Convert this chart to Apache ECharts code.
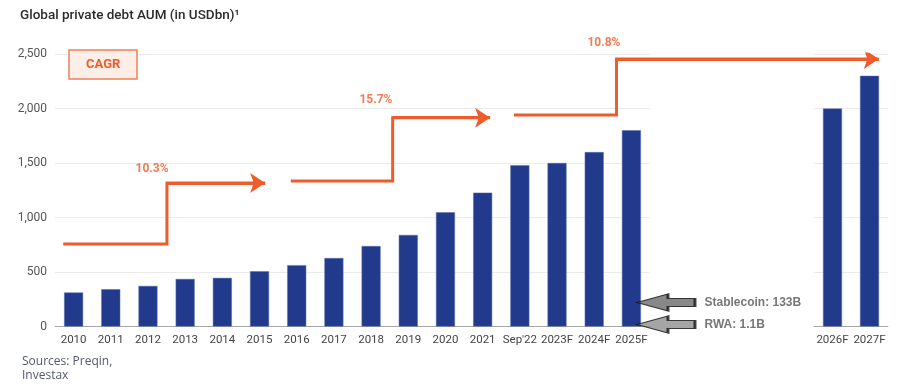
<!DOCTYPE html>
<html>
<head>
<meta charset="utf-8">
<script src="https://cdn.jsdelivr.net/npm/echarts@6/dist/echarts.min.js"></script>
<style>
html,body{margin:0;padding:0;background:#fff;}
#chart{width:910px;height:392px;}
</style>
</head>
<body>
<div id="chart"></div>
<script>
// ---- data ----
const categories = ['2010','2011','2012','2013','2014','2015','2016','2017','2018','2019','2020','2021',"Sep'22",'2023F','2024F','2025F'];
const values = [312, 342, 372, 436, 446, 507, 563, 628, 738, 840, 1048, 1228, 1480, 1500, 1600, 1800];
const forecastCategories = ['2026F','2027F'];
const forecastValues = [2000, 2300];
const yTicks = [0, 500, 1000, 1500, 2000, 2500];
const cagrLabels = ['10.3%', '15.7%', '10.8%'];
// step-arrow paths in (category index, USDbn) units
const cagrSteps = [
  [[-0.28, 757], [2.51, 757], [2.51, 1316], [5.15, 1316]],
  [[5.84, 1335], [8.58, 1335], [8.58, 1916], [11.2, 1916]],
  [[11.84, 1940], [14.6, 1940], [14.6, 2455], [21.65, 2455]]
];
const cagrLabelAnchors = [[2.11, 1445], [8.13, 2078], [14.26, 2600]];
const annotationNames = ['Stablecoin: 133B', 'RWA: 1.1B'];
const annotationAnchors = [[15.93, 220], [15.93, 18]];

// ---- layout ----
const W = 910, H = 392;
const plotTop = 54, plotBottom = H - 326.5;
const mainLeft = 55, mainRight = 650;
const fcLeft = 814, fcRight = 888;
const step = (mainRight - mainLeft) / categories.length;
const overlayMax = -0.5 + (fcRight - mainLeft) / step;

const ORANGE = '#ef5b2b';
const BAR = '#213a8c';
const FONT = 'Roboto, "Noto Sans", sans-serif';

const chart = echarts.init(document.getElementById('chart'), null, {renderer: 'canvas'});
const yMax = yTicks[yTicks.length - 1];

const arrowPath = 'path://M0,8.5 L31,0 L31,4.5 L58,4.5 L58,12.5 L31,12.5 L31,17 Z';

chart.setOption({
  animation: false,
  backgroundColor: '#fff',
  title: [
    {
      text: 'Global private debt AUM (in USDbn)¹',
      left: 20, top: 9, padding: 0,
      textStyle: {fontFamily: FONT, fontSize: 13.5, fontWeight: 500, color: '#2b2b2b'}
    },
    {
      text: 'CAGR',
      left: 69, top: 50,
      padding: [8, 17, 8, 17],
      backgroundColor: '#fdeee7',
      borderColor: '#f0805a',
      borderWidth: 1.5,
      textStyle: {fontFamily: FONT, fontSize: 13, fontWeight: 'bold', color: ORANGE}
    },
    {
      text: 'Sources: Preqin,\nInvestax',
      left: 22, top: 355, padding: 0,
      textStyle: {fontFamily: '"Open Sans", sans-serif', fontSize: 12, fontWeight: 'normal', color: '#555a6a', lineHeight: 14}
    }
  ],
  grid: [
    {left: mainLeft, right: W - mainRight, top: plotTop, bottom: plotBottom},
    {left: fcLeft, right: W - fcRight, top: plotTop, bottom: plotBottom},
    {left: mainLeft, right: W - fcRight, top: plotTop, bottom: plotBottom}
  ],
  xAxis: [
    {
      type: 'category', gridIndex: 0, data: categories,
      axisLine: {lineStyle: {color: '#a8a8a8', width: 1}},
      axisTick: {show: false},
      axisLabel: {fontFamily: FONT, fontSize: 11.5, color: '#444', margin: 8, interval: 0}
    },
    {
      type: 'category', gridIndex: 1, data: forecastCategories,
      axisLine: {lineStyle: {color: '#a8a8a8', width: 1}},
      axisTick: {show: false},
      axisLabel: {fontFamily: FONT, fontSize: 11.5, color: '#444', margin: 8, interval: 0}
    },
    {
      type: 'value', gridIndex: 2, min: -0.5, max: overlayMax, show: false
    }
  ],
  yAxis: [
    {
      type: 'value', gridIndex: 0, min: 0, max: yMax, interval: 500,
      axisLine: {show: false}, axisTick: {show: false},
      splitLine: {lineStyle: {color: '#ebebeb', width: 1}},
      axisLabel: {
        fontFamily: FONT, fontSize: 12, color: '#555', margin: 8,
        formatter: v => v.toLocaleString('en-US')
      }
    },
    {
      type: 'value', gridIndex: 1, min: 0, max: yMax, interval: 500,
      axisLine: {show: false}, axisTick: {show: false},
      splitLine: {lineStyle: {color: '#ebebeb', width: 1}},
      axisLabel: {show: false}
    },
    {
      type: 'value', gridIndex: 2, min: 0, max: yMax, show: false
    }
  ],
  series: [
    {
      type: 'bar', xAxisIndex: 0, yAxisIndex: 0, data: values,
      barWidth: 19, itemStyle: {color: BAR, borderColor: '#5a6fb0', borderWidth: 0.5}
    },
    {
      type: 'bar', xAxisIndex: 1, yAxisIndex: 1, data: forecastValues,
      barWidth: 19, itemStyle: {color: BAR, borderColor: '#5a6fb0', borderWidth: 0.5}
    },
    {
      // step paths
      type: 'lines', coordinateSystem: 'cartesian2d', xAxisIndex: 2, yAxisIndex: 2,
      polyline: true,
      lineStyle: {color: ORANGE, width: 3, opacity: 1, join: 'miter'},
      data: cagrSteps.map(c => ({coords: c})),
      z: 5
    },
    {
      // arrowheads on the final leg of each step path
      type: 'lines', coordinateSystem: 'cartesian2d', xAxisIndex: 2, yAxisIndex: 2,
      polyline: false,
      symbol: ['none', 'arrow'], symbolSize: [13, 15],
      lineStyle: {color: ORANGE, width: 3, opacity: 1},
      data: cagrSteps.map(c => ({coords: c.slice(-2)})),
      z: 5
    },
    {
      type: 'scatter', xAxisIndex: 2, yAxisIndex: 2, clip: false,
      symbolSize: 0,
      data: cagrLabelAnchors.map((p, i) => ({value: p, name: cagrLabels[i]})),
      label: {
        show: true, position: 'inside', formatter: '{b}',
        fontFamily: FONT, fontSize: 12, fontWeight: 'bold', color: ORANGE
      },
      z: 6
    },
    {
      type: 'scatter', xAxisIndex: 2, yAxisIndex: 2, clip: false,
      symbol: arrowPath, symbolSize: [58, 17],
      data: annotationAnchors.map((p, i) => ({
        value: p, name: annotationNames[i],
        itemStyle: {color: i === 0 ? '#6a6a6a' : '#8e8e8e'}
      })),
      itemStyle: {borderColor: '#111', borderWidth: 1.6},
      label: {
        show: true, position: 'right', distance: 8, formatter: '{b}',
        fontFamily: '"Liberation Sans", Arial, sans-serif', fontSize: 12, fontWeight: 'bold', color: '#555'
      },
      z: 6
    }
  ]
});
</script>
</body>
</html>
